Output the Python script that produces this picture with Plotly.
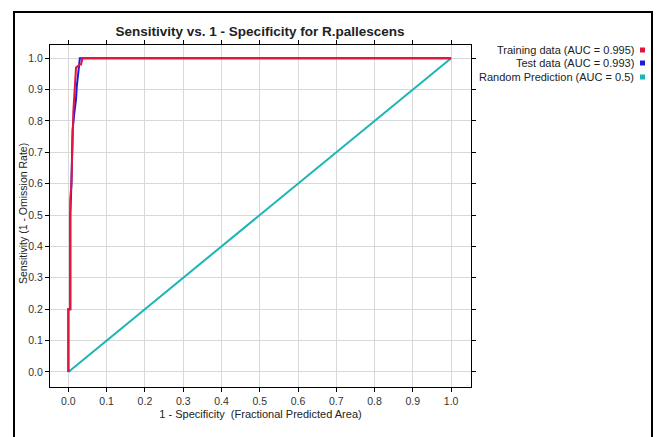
import plotly.graph_objects as go

# ROC data
train_fpr = [0.0, 0.0, 0.005, 0.005, 0.008, 0.01, 0.011, 0.013, 0.015, 0.017, 0.018, 0.02, 0.03, 0.033, 0.037, 1.0]
train_tpr = [0.0, 0.2, 0.2, 0.55, 0.6, 0.7, 0.77, 0.83, 0.87, 0.92, 0.94, 0.97, 0.98, 0.98, 1.0, 1.0]
test_fpr = [0.0, 0.0, 0.005, 0.005, 0.008, 0.01, 0.011, 0.015, 0.02, 0.022, 0.025, 0.028, 0.03, 0.03, 1.0]
test_tpr = [0.0, 0.2, 0.2, 0.5, 0.6, 0.7, 0.77, 0.82, 0.87, 0.91, 0.94, 0.97, 0.99, 1.0, 1.0]
rand_fpr = [0.0, 1.0]
rand_tpr = [0.0, 1.0]

legend_labels = ["Training data (AUC = 0.995)", "Test data (AUC = 0.993)", "Random Prediction (AUC = 0.5)"]
colors = ["#e0163c", "#1a1ae6", "#1cb5b5"]

tick_vals = [i / 10 for i in range(11)]
tick_text = [f"{v:.1f}" for v in tick_vals]

FONT = "Liberation Sans, Arial"

fig = go.Figure()
fig.add_trace(go.Scatter(x=rand_fpr, y=rand_tpr, mode="lines", line=dict(color=colors[2], width=2), showlegend=False))
fig.add_trace(go.Scatter(x=test_fpr, y=test_tpr, mode="lines", line=dict(color=colors[1], width=2), showlegend=False))
fig.add_trace(go.Scatter(x=train_fpr, y=train_tpr, mode="lines", line=dict(color=colors[0], width=2), showlegend=False))

OFF = 8  # page body margin
W, H = 662, 437
# plot area in screen pixels: x 50..471, y 45..387
L = 50 - OFF
T = 45 - OFF
R = W - (471 - OFF)
B = H - (387 - OFF)
pw, ph = W - L - R, H - T - B

def px_x(sx):
    return (sx - OFF - L) / pw

def px_y(sy):
    return (H - B - (sy - OFF)) / ph

axis_common = dict(
    tickvals=tick_vals, ticktext=tick_text, showgrid=True, gridcolor="#d8d8d8", gridwidth=1,
    showline=True, linecolor="black", linewidth=1, mirror="ticks", ticks="outside",
    ticklen=4, tickcolor="black", zeroline=False,
    tickfont=dict(family=FONT, size=10.5, color="#333333"),
)

fig.update_layout(
    width=W, height=H,
    margin=dict(l=L, r=R, t=T, b=B, autoexpand=False),
    paper_bgcolor="white", plot_bgcolor="white",
    title=dict(text="<b>Sensitivity vs. 1 - Specificity for R.pallescens</b>", x=px_x(260), xref="paper",
               xanchor="center", y=1 - (31 - OFF) / H, yanchor="middle",
               font=dict(family=FONT, size=13.5, color="#222222")),
    xaxis=dict(range=[-0.048, 1.052], title=dict(text="1 - Specificity  (Fractional Predicted Area)", standoff=4,
               font=dict(family=FONT, size=11, color="#222222")), **axis_common),
    yaxis=dict(range=[-0.048, 1.042], **axis_common),
)

# Y axis title
fig.add_annotation(xref="paper", yref="paper", x=px_x(23), y=px_y(214), text="Sensitivity (1 - Omission Rate)",
                   textangle=-90, showarrow=False, xanchor="center", yanchor="middle",
                   font=dict(family=FONT, size=10.5, color="#222222"))

# Outer frame
fig.add_shape(type="rect", xref="paper", yref="paper", x0=px_x(14), x1=px_x(652), y0=px_y(450), y1=px_y(12),
              line=dict(color="black", width=2), fillcolor="rgba(0,0,0,0)", layer="below")

# Legend (text on left, swatch on right)
rows_y = [50, 63, 77]
for lab, col, yy in zip(legend_labels, colors, rows_y):
    fig.add_annotation(xref="paper", yref="paper", x=px_x(636), y=px_y(yy), text=lab, showarrow=False,
                       xanchor="right", yanchor="middle",
                       font=dict(family=FONT, size=11, color="#222222"))
    fig.add_shape(type="rect", xref="paper", yref="paper", x0=px_x(640), x1=px_x(645),
                  y0=px_y(yy + 2.5), y1=px_y(yy - 2.5), line=dict(width=0), fillcolor=col)

fig.write_html("out.html")
